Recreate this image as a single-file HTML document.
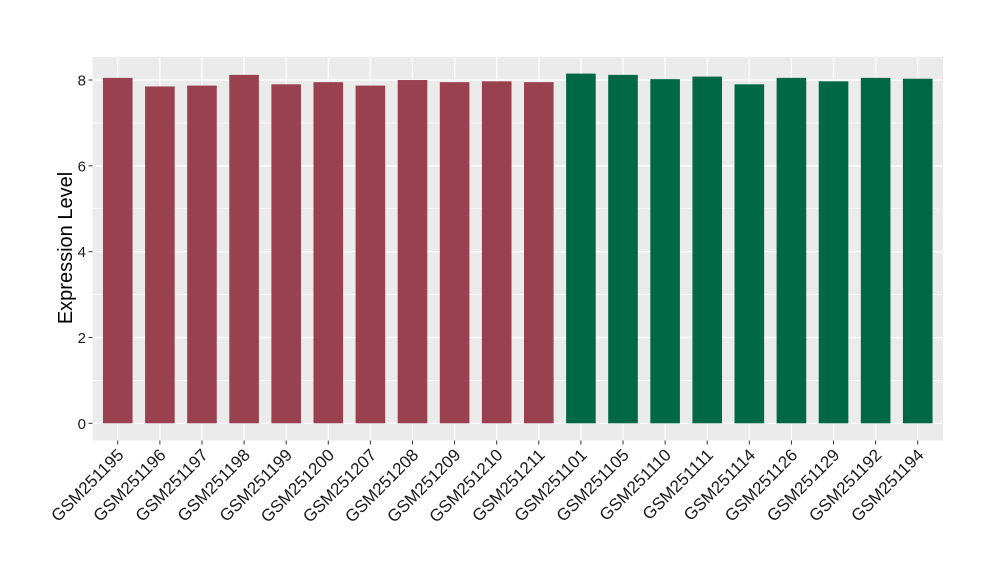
<!DOCTYPE html>
<html><head><style>body{margin:0;background:#fff}svg{display:block}text{font-family:"Liberation Sans",Arial,sans-serif}</style></head><body>
<svg width="1000" height="580" xmlns="http://www.w3.org/2000/svg">
<rect x="92.5" y="57" width="850.5" height="383.5" fill="#EBEBEB"/>
</svg>
<script>
(function(){
const svg=document.querySelector('svg');const ns="http://www.w3.org/2000/svg";
function el(t,a,txt){const e=document.createElementNS(ns,t);for(const k in a)e.setAttribute(k,a[k]);if(txt)e.textContent=txt;svg.appendChild(e);return e;}
const y0=423.3,u=42.91,L=92.5,R=943,step=850.5/20.2;
for(const v of [1,3,5,7])el('line',{x1:L,x2:R,y1:y0-v*u,y2:y0-v*u,stroke:'#fff','stroke-width':0.6});
for(const v of [0,2,4,6,8])el('line',{x1:L,x2:R,y1:y0-v*u,y2:y0-v*u,stroke:'#fff','stroke-width':1.2});
const names=["GSM251195","GSM251196","GSM251197","GSM251198","GSM251199","GSM251200","GSM251207","GSM251208","GSM251209","GSM251210","GSM251211","GSM251101","GSM251105","GSM251110","GSM251111","GSM251114","GSM251126","GSM251129","GSM251192","GSM251194"];
const vals=[8.05,7.85,7.87,8.12,7.9,7.95,7.87,8.0,7.95,7.97,7.95,8.15,8.12,8.02,8.08,7.9,8.05,7.97,8.05,8.03];
for(let i=0;i<20;i++){const c=L+step*(0.6+i);
el('line',{x1:c,x2:c,y1:57,y2:440.5,stroke:'#fff','stroke-width':1.2});}
for(let i=0;i<20;i++){const c=L+step*(0.6+i),h=vals[i]*u;
el('rect',{x:c-14.8,y:y0-h,width:29.6,height:h,fill:i<11?'#9A4150':'#006845'});
el('line',{x1:c,x2:c,y1:440.5,y2:444.5,stroke:'#333','stroke-width':1});
const tx=c+7,ty=456;
el('text',{x:tx,y:ty,'font-size':17,fill:'#1a1a1a','text-anchor':'end',transform:`rotate(-45 ${tx} ${ty})`},names[i]);}
for(const v of [0,2,4,6,8]){const y=y0-v*u;
el('line',{x1:88.5,x2:92.5,y1:y,y2:y,stroke:'#333','stroke-width':1});
el('text',{x:86,y:y+5.5,'font-size':15,fill:'#1a1a1a','text-anchor':'end'},String(v));}
el('text',{x:72,y:248,'font-size':20,fill:'#000','text-anchor':'middle',transform:'rotate(-90 72 248)'},'Expression Level');
})();
</script>
</body></html>
